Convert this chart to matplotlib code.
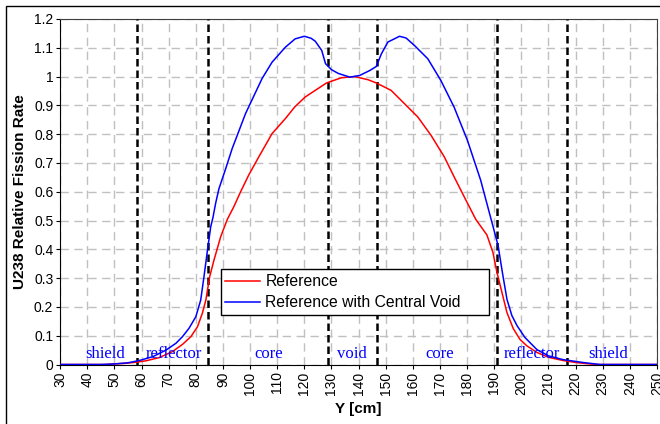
import matplotlib
matplotlib.use("Agg")
import matplotlib.pyplot as plt
from matplotlib.patches import Rectangle

# reference case
ref_x = [30, 47, 50, 54, 58, 61.7, 66.5, 71.4, 75.1, 78.2, 80.6, 82.4, 83.7, 85.1, 86.7,
         89.2, 91.6, 94.0, 96.5, 99.5, 103.2, 108.1, 113.0, 116.5, 120.3, 124.0, 128.2,
         133.7, 138.6, 143.5, 146.5, 152.0, 156.9, 161.8, 166.7, 171.6, 175.2, 178.9,
         183.2, 187.3, 189.5, 191.0, 194.7, 197.0, 199.5, 202.0, 205.7, 210.0, 215.3,
         220.0, 224.0, 228.0, 250]
ref_y = [0, 0, 0.002, 0.004, 0.008, 0.013, 0.024, 0.045, 0.07, 0.097, 0.131, 0.178, 0.224,
         0.305, 0.363, 0.445, 0.504, 0.548, 0.6, 0.658, 0.721, 0.802, 0.854, 0.895, 0.929,
         0.952, 0.978, 0.996, 1.0, 0.989, 0.978, 0.952, 0.906, 0.86, 0.796, 0.721, 0.652,
         0.583, 0.504, 0.45, 0.39, 0.32, 0.18, 0.125, 0.087, 0.065, 0.042, 0.025, 0.014,
         0.007, 0.003, 0, 0]

# reference with central void
void_x = [30, 45, 50, 55, 59.2, 64.1, 69.0, 72.7, 75.1, 77.5, 80.0, 81.8, 83.0, 84.3, 85.5,
          86.3, 87.3, 88.5, 91.0, 93.4, 98.3, 104.4, 108.1, 113.0, 116.6, 120.0, 122.5,
          124.0, 126.4, 127.8, 130.0, 132.5, 136.8, 140.4, 144.1, 146.5, 148.4, 150.8,
          155.1, 157.5, 160.6, 165.5, 170.3, 175.2, 180.1, 185.0, 188.6, 191.4, 193.0,
          194.7, 196.5, 198.4, 201.3, 205.7, 210.0, 215.3, 222.7, 229.0, 250]
void_y = [0, 0, 0.002, 0.006, 0.014, 0.027, 0.05, 0.074, 0.097, 0.126, 0.166, 0.224, 0.305,
          0.398, 0.479, 0.51, 0.56, 0.61, 0.68, 0.75, 0.871, 0.993, 1.05, 1.102, 1.131, 1.14,
          1.133, 1.123, 1.091, 1.045, 1.024, 1.011, 0.998, 1.004, 1.021, 1.035, 1.079, 1.12,
          1.14, 1.134, 1.108, 1.062, 0.987, 0.894, 0.779, 0.64, 0.513, 0.414, 0.32, 0.226,
          0.17, 0.135, 0.094, 0.052, 0.03, 0.017, 0.007, 0, 0]

# region boundaries and labels
boundaries = [58.4, 84.6, 128.6, 146.8, 191.0, 217.0]
region_names = ["shield", "reflector", "core", "void", "core", "reflector", "shield"]
region_pos = [46.5, 72.0, 107.0, 137.6, 170.0, 204.0, 232.0]

plt.rcParams['font.family'] = ['Liberation Sans', 'DejaVu Sans']

fig = plt.figure(figsize=(6.6, 4.24), dpi=100)
ax = fig.add_axes([60.2 / 660, 1 - 364.5 / 424, (657 - 60.2) / 660, (364.5 - 19) / 424])

ax.set_xlim(30, 250)
ax.set_ylim(0, 1.2)
ax.set_xticks(range(30, 251, 10))
ax.set_yticks([i / 10 for i in range(13)])
ax.set_yticklabels(["0", "0.1", "0.2", "0.3", "0.4", "0.5", "0.6", "0.7", "0.8", "0.9",
                    "1", "1.1", "1.2"])
ax.tick_params(axis='x', labelrotation=90, labelsize=10, length=3, direction='out', pad=2)
ax.tick_params(axis='y', labelsize=10, length=3, direction='out', pad=2)

ax.grid(True, color='#c0c0c0', linestyle=(0, (6, 4)), linewidth=1)
ax.set_axisbelow(True)

for b in boundaries:
    ax.axvline(b, color='black', linestyle=(0, (3, 1.6)), linewidth=1.8, zorder=3)

ax.plot(ref_x, ref_y, color='#ff0000', linewidth=1.1, label='Reference', zorder=4)
ax.plot(void_x, void_y, color='#0000ff', linewidth=1.1, label='Reference with Central Void', zorder=5)

for name, pos in zip(region_names, region_pos):
    ax.text(pos, 0.008, name, color='#0000ff', fontsize=12, family='Liberation Serif',
            ha='center', va='bottom', zorder=6)

ax.set_xlabel("Y [cm]", fontsize=11, fontweight='bold', labelpad=5)
ax.set_ylabel("U238 Relative Fission Rate", fontsize=11, fontweight='bold', labelpad=5)

for side in ['top', 'right']:
    ax.spines[side].set_color('#404040')
for side in ['left', 'bottom']:
    ax.spines[side].set_color('black')

leg = ax.legend(loc='lower left', bbox_to_anchor=(0.269, 0.143, 0.45, 0.142), mode='expand',
                fontsize=11.3, frameon=True, fancybox=False, framealpha=1, edgecolor='black',
                handlelength=2.2, handletextpad=0.35, labelspacing=0.4, borderpad=0.3,
                borderaxespad=0)
leg.get_frame().set_linewidth(1)
leg.set_zorder(7)

# outer chart frame
fig.patches.append(Rectangle((6 / 660, -0.1), 1.2, 1 - 6 / 424 + 0.1, transform=fig.transFigure,
                             fill=False, edgecolor='black', linewidth=1))

fig.savefig("out.png", dpi=100)
